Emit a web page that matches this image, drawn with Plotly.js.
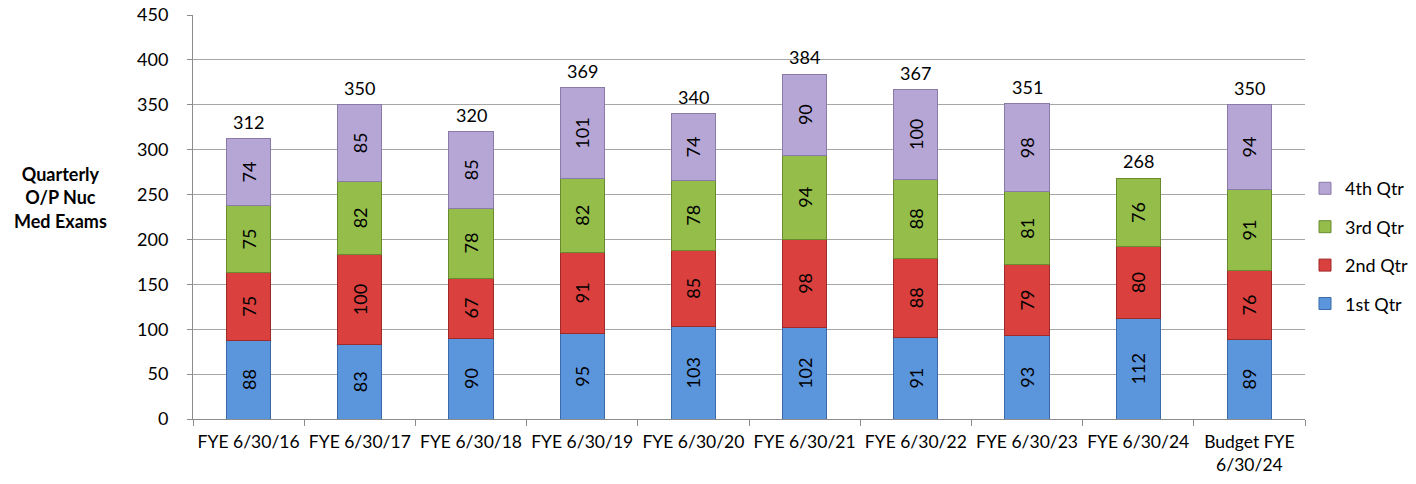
<!DOCTYPE html>
<html>
<head>
<meta charset="utf-8">
<script src="https://cdn.plot.ly/plotly-3.0.1.min.js"></script>
<style>html,body{margin:0;padding:0;background:#fff;}#chart{width:1416px;height:484px;}</style>
</head>
<body>
<div id="chart"></div>
<script>
const categories = ["FYE 6/30/16","FYE 6/30/17","FYE 6/30/18","FYE 6/30/19","FYE 6/30/20","FYE 6/30/21","FYE 6/30/22","FYE 6/30/23","FYE 6/30/24","Budget FYE 6/30/24"];
const tickLabels = ["FYE 6/30/16","FYE 6/30/17","FYE 6/30/18","FYE 6/30/19","FYE 6/30/20","FYE 6/30/21","FYE 6/30/22","FYE 6/30/23","FYE 6/30/24","Budget FYE<br>6/30/24"];
const q1 = [88,83,90,95,103,102,91,93,112,89];
const q2 = [75,100,67,91,85,98,88,79,80,76];
const q3 = [75,82,78,82,78,94,88,81,76,91];
const q4 = [74,85,85,101,74,90,100,98,null,94];
const seriesNames = ["1st Qtr","2nd Qtr","3rd Qtr","4th Qtr"];

const fontFam = "Lato, 'Open Sans', 'Liberation Sans', sans-serif";
const fills = ["#5b95dc","#d9403e","#94bd4a","#b6a6d6"];
const lines = ["#3a6aa8","#9e2b2a","#6a8a30","#8a7aa8"];
const series = [q1,q2,q3,q4];

const totals = categories.map((c,i)=>series.reduce((s,arr)=>s+(arr[i]||0),0));

const traces = series.map((vals,k)=>({
  type:"bar",
  name:seriesNames[k],
  legendgroup:"g"+k,
  legendrank:100-k,
  x:categories,
  y:vals,
  text:vals.map(v=>v==null?"":String(v)),
  textposition:"inside",
  insidetextanchor:"middle",
  textangle:-90,
  constraintext:"none",
  textfont:{family:fontFam,size:18,color:"#000"},
  marker:{color:fills[k],line:{color:lines[k],width:1}},
  hoverinfo:"skip"
}));

const totalAnnotations = categories.map((c,i)=>({
  x:c, y:totals[i], xref:"x", yref:"y",
  text:String(totals[i]), showarrow:false,
  xanchor:"center", yanchor:"bottom", yshift:4,
  font:{family:fontFam,size:18,color:"#000"}
}));

const layout = {
  width:1416,height:484,
  margin:{l:193,r:111,t:15,b:65,autoexpand:false},
  barmode:"stack",
  bargap:0.604,
  paper_bgcolor:"#fff",plot_bgcolor:"#fff",
  font:{family:fontFam,size:18,color:"#000"},
  showlegend:true,
  legend:{traceorder:"grouped",x:1.0,xanchor:"left",y:0.428,yanchor:"middle",
          font:{family:fontFam,size:18,color:"#000"},tracegroupgap:12,itemwidth:30},
  xaxis:{type:"category",tickvals:categories,ticktext:tickLabels,tickangle:0,
         showline:true,linecolor:"#8c8c8c",linewidth:1,ticks:"outside",tickson:"boundaries",
         ticklen:6,tickcolor:"#8c8c8c",showgrid:false,tickfont:{family:fontFam,size:17.5},
         ticklabelstandoff:7},
  yaxis:{range:[0,450],dtick:50,showline:true,linecolor:"#8c8c8c",linewidth:1,
         ticks:"outside",ticklen:5,tickcolor:"#8c8c8c",gridcolor:"#a6a6a6",gridwidth:1,
         zeroline:false,tickfont:{family:fontFam,size:18},ticklabelstandoff:15},
  annotations:[{text:"<b>Quarterly<br>O/P Nuc<br>Med Exams</b>",xref:"paper",yref:"paper",
    x:-0.1196,y:0.548,xanchor:"center",yanchor:"middle",showarrow:false,
    font:{family:fontFam,size:18,color:"#000"},align:"center"}].concat(totalAnnotations)
};

Plotly.newPlot("chart",traces,layout,{staticPlot:true,displayModeBar:false});
</script>
</body>
</html>
